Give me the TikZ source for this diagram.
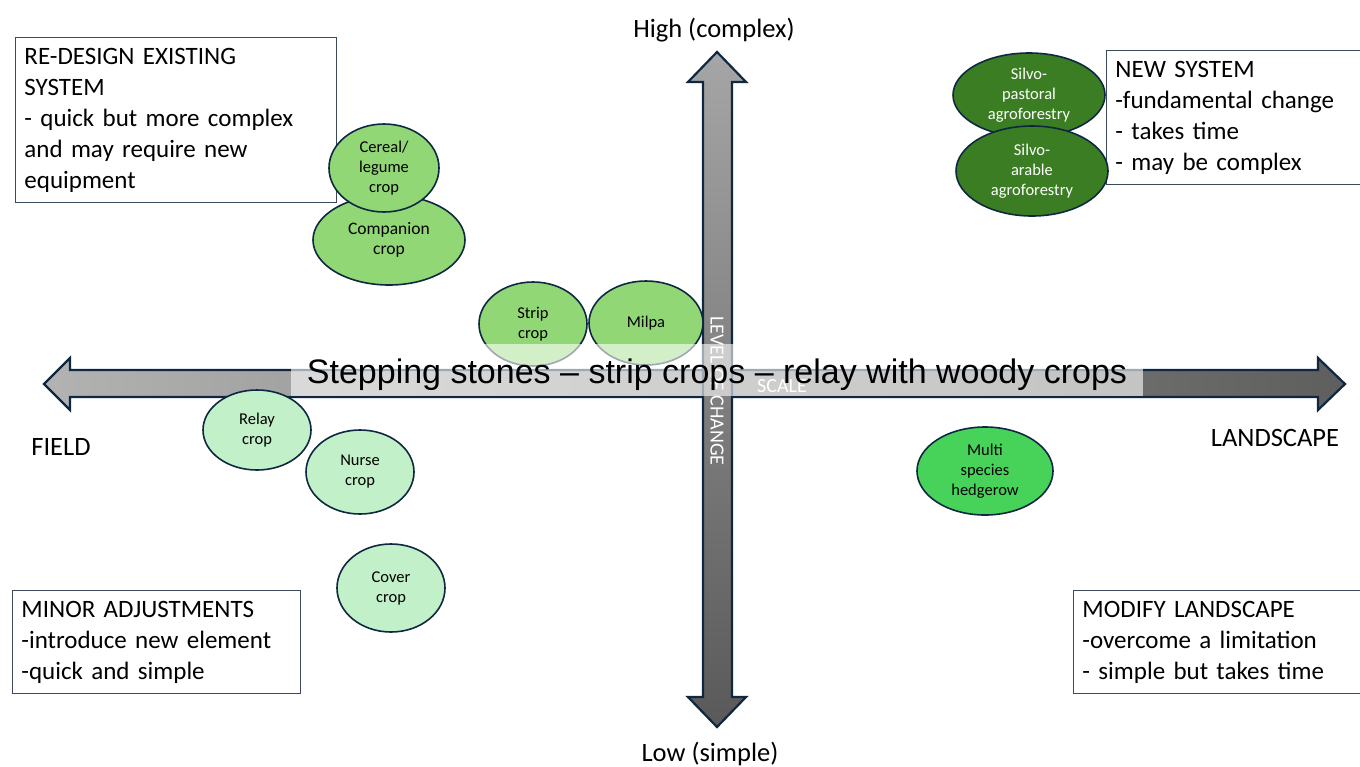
\documentclass[tikz,border=0pt]{standalone}
\usepackage{fontspec}
\setmainfont{Carlito}
\newfontfamily\arialfont{Liberation Sans}
\usetikzlibrary{shapes.geometric}

\definecolor{edgenavy}{HTML}{0E2841}
\definecolor{boxline}{HTML}{3A4A5A}
\definecolor{leafgreen}{HTML}{92D775}
\definecolor{palegreen}{HTML}{C2F0C8}
\definecolor{forestgreen}{HTML}{3B7D23}
\definecolor{hedgegreen}{HTML}{47D35A}

\tikzset{
  crop/.style={ellipse, draw=edgenavy, line width=1.6pt, inner sep=0pt,
    align=center, font=\fontsize{16.5}{20}\selectfont},
  quadbox/.style={draw=boxline, line width=0.9pt, anchor=north west,
    align=left, inner xsep=9pt, inner ysep=6pt,
    font=\fontsize{25}{31}\selectfont},
  axislabel/.style={font=\fontsize{26.5}{30}\selectfont}
}

\begin{document}
\begin{tikzpicture}[x=1pt, y=-1pt]
  \useasboundingbox (0,0) rectangle (1360,766);

  % horizontal axis (scale)
  \shade[left color=black!30, right color=black!63, draw=edgenavy, line width=2.2pt, line join=miter]
    (44,384) -- (70,358) -- (70,370) -- (1318,370) -- (1318,358) -- (1345,384)
    -- (1318,410) -- (1318,397) -- (70,397) -- (70,410) -- cycle;
  \node[text=white, font=\fontsize{20}{22}\selectfont] (scale) at (782,386) {SCALE};

  % vertical axis (level of change)
  \shade[top color=black!35, bottom color=black!65, draw=edgenavy, line width=2.2pt, line join=miter]
    (717,52) -- (746,82) -- (732,82) -- (732,697) -- (746,697) -- (717,727)
    -- (688,697) -- (703,697) -- (703,82) -- (688,82) -- cycle;
  \node[text=white, rotate=-90, font=\fontsize{20}{22}\selectfont] (level) at (717,391) {LEVEL OF CHANGE};

  % axis ends
  \node[axislabel] (high) at (714,30) {High (complex)};
  \node[axislabel] (low) at (710,754) {Low (simple)};
  \node[axislabel] (field) at (61,447) {FIELD};
  \node[axislabel] (landscape) at (1275,438) {LANDSCAPE};

  % quadrant boxes
  \node[quadbox, text width=303pt, minimum height=165pt] (redesign) at (15,37)
    {RE-DESIGN EXISTING\\SYSTEM\\- quick but more complex\\and may require new\\equipment};
  \node[quadbox, text width=260pt, minimum height=134pt] (newsys) at (1106,50)
    {NEW SYSTEM\\-fundamental change\\- takes time\\- may be complex};
  \node[quadbox, text width=270pt, minimum height=103pt] (minor) at (12,590)
    {MINOR ADJUSTMENTS\\-introduce new element\\-quick and simple};
  \node[quadbox, text width=280pt, minimum height=103pt] (modify) at (1073,590)
    {MODIFY LANDSCAPE\\-overcome a limitation\\- simple but takes time};

  % crops
  \node[crop, fill=leafgreen, minimum width=152pt, minimum height=90pt,
    font=\fontsize{17.5}{20}\selectfont] (companion) at (389,240) {Companion\\crop};
  \node[crop, fill=leafgreen, minimum width=110pt, minimum height=88pt] (cereal) at (384,168) {Cereal/\\legume\\crop};
  \node[crop, fill=leafgreen, minimum width=108pt, minimum height=84pt] (strip) at (533,324) {Strip\\crop};
  \node[crop, fill=leafgreen, minimum width=114pt, minimum height=84pt] (milpa) at (646,323) {Milpa};
  \node[crop, fill=palegreen, minimum width=108pt, minimum height=80pt] (relay) at (257,430) {Relay\\crop};
  \node[crop, fill=palegreen, minimum width=108pt, minimum height=84pt] (nurse) at (360,472) {Nurse\\crop};
  \node[crop, fill=palegreen, minimum width=108pt, minimum height=88pt] (cover) at (391,588) {Cover\\crop};
  \node[crop, fill=forestgreen, text=white, minimum width=152pt, minimum height=84pt] (pastoral) at (1029,95) {Silvo-\\pastoral\\agroforestry};
  \node[crop, fill=forestgreen, text=white, minimum width=152pt, minimum height=90pt] (arable) at (1032,171) {Silvo-\\arable\\agroforestry};
  \node[crop, fill=hedgegreen, minimum width=136pt, minimum height=88pt] (hedgerow) at (985,471) {Multi\\species\\hedgerow};

  % stepping stones banner
  \node[fill=white, fill opacity=0.6, text opacity=1, minimum width=852pt, minimum height=52pt,
    inner sep=0pt, text height=30pt, text depth=4pt,
    font=\arialfont\fontsize{34}{38}\selectfont] (stepping) at (717,370)
    {Stepping stones – strip crops – relay with woody crops};
\end{tikzpicture}
\end{document}
